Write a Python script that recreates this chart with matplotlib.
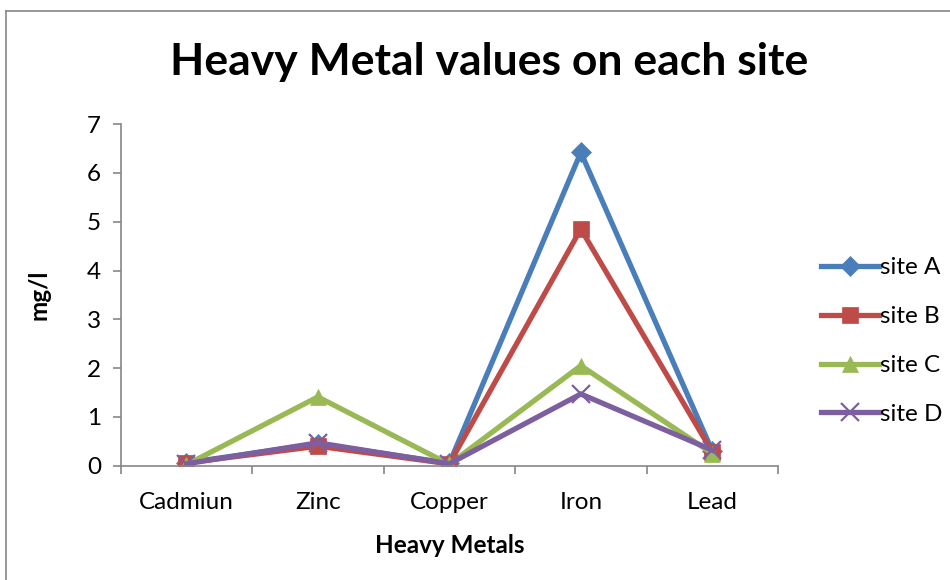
import matplotlib.pyplot as plt
from matplotlib.lines import Line2D

plt.rcParams['font.family'] = ['Lato', 'DejaVu Sans']

metals = ['Cadmiun', 'Zinc', 'Copper', 'Iron', 'Lead']
site_a = [0.06, 0.45, 0.05, 6.42, 0.30]
site_b = [0.06, 0.40, 0.04, 4.85, 0.28]
site_c = [0.02, 1.41, 0.03, 2.05, 0.25]
site_d = [0.04, 0.47, 0.04, 1.47, 0.32]
sites = ['site A', 'site B', 'site C', 'site D']

colors = ['#4a7ebb', '#be4b48', '#98b954', '#7d5fa0']
markers = ['D', 's', '^', 'x']
msizes = [10, 12, 12, 13]
lw = 3.8

fig = plt.figure(figsize=(9.5, 5.8), dpi=100)
ax = fig.add_axes([0.127, 0.197, 0.692, 0.589])

x = list(range(len(metals)))
for vals, name, c, m, ms in zip([site_a, site_b, site_c, site_d], sites,
                                colors, markers, msizes):
    ax.plot(x, vals, color=c, lw=lw, marker=m, markersize=ms,
            markeredgewidth=1.6 if m == 'x' else 0.5,
            markeredgecolor=c, label=name, solid_joinstyle='miter')

ax.set_xlim(-0.5, 4.5)
ax.set_ylim(0, 7)
ax.set_yticks(range(8))
ax.set_xticks(x)
ax.set_xticklabels(metals)
ax.set_xticks([i - 0.5 for i in range(6)], minor=True)
ax.tick_params(axis='x', which='major', length=0, pad=19, labelsize=17.5)
ax.tick_params(axis='x', which='minor', length=6, width=1.2, color='#868686')
ax.tick_params(axis='y', length=6, width=1.2, color='#868686', labelsize=17.5, pad=8)
for s in ['top', 'right']:
    ax.spines[s].set_visible(False)
for s in ['left', 'bottom']:
    ax.spines[s].set_color('#868686')
    ax.spines[s].set_linewidth(1.2)

ax.set_xlabel('Heavy Metals', fontsize=17.5, fontweight='bold', labelpad=15)
ax.set_ylabel('mg/l', fontsize=17.5, fontweight='bold', labelpad=26)
fig.text(0.515, 0.893, 'Heavy Metal values on each site', ha='center',
         va='center', fontsize=32, fontweight='bold')

handles = [Line2D([], [], color=c, lw=lw, marker=m, markersize=ms,
                  markeredgewidth=1.6 if m == 'x' else 0.5, markeredgecolor=c)
           for c, m, ms in zip(colors, markers, msizes)]
fig.legend(handles, sites, loc='center left', bbox_to_anchor=(0.864, 0.412),
           frameon=False, fontsize=17.5, handlelength=2.4, handletextpad=0.05,
           labelspacing=1.15, borderpad=0, borderaxespad=0)

# chart border
fig.add_artist(Line2D([0.006, 0.006], [0.0, 0.981], color='#868686', lw=1.2,
                      transform=fig.transFigure))
fig.add_artist(Line2D([0.006, 1.0], [0.981, 0.981], color='#868686', lw=1.2,
                      transform=fig.transFigure))

fig.savefig('out.png', dpi=100)
